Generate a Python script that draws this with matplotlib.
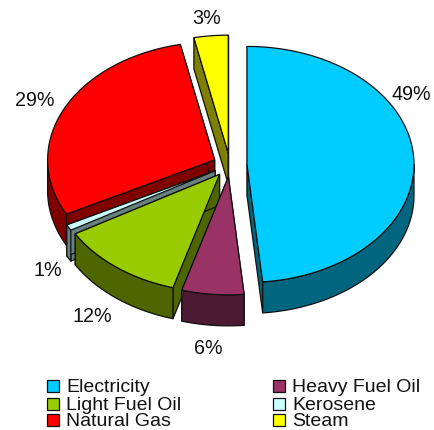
import numpy as np
import matplotlib.pyplot as plt
from matplotlib.patches import Polygon, Rectangle

plt.rcParams['font.family'] = ['Liberation Sans', 'DejaVu Sans']

# order is clockwise from 12 o'clock, shares estimated from the slice angles
fuels = ['Electricity', 'Heavy Fuel Oil', 'Light Fuel Oil', 'Kerosene', 'Natural Gas', 'Steam']
shares = [48.5, 6.0, 12.1, 0.8, 29.3, 3.3]
pct_labels = ['49%', '6%', '12%', '1%', '29%', '3%']
top_colors = ['#00CCFF', '#993366', '#99CC00', '#CCFFFF', '#FF0000', '#FFFF00']
side_colors = ['#006680', '#4D1A33', '#4D6600', '#668080', '#800000', '#808000']

# pixel layout of the fake 3d pie
cx, cy = 230, 165
rx, ry = 167, 118
depth = 31
explode = 17
edge = '#101010'

label_pos = [(411, 95), (208, 348), (92, 316), (48, 270), (35, 101), (207, 18)]
legend_pos = [(47, 392), (273, 392), (47, 410), (273, 410), (47, 426), (273, 426)]

fig = plt.figure(figsize=(4.34, 4.30), dpi=100)
ax = fig.add_axes([0, 0, 1, 1])
ax.set_xlim(0, 434)
ax.set_ylim(430, 0)
ax.axis('off')


def point(deg, radius=1.0):
    t = np.radians(deg)
    return np.sin(t) * rx * radius, -np.cos(t) * ry * radius


ends = np.cumsum(shares) * 3.6
starts = ends - np.array(shares) * 3.6

# back slices first so the front ones cover them
for i in [5, 0, 4, 3, 2, 1]:
    a0, a1 = starts[i], ends[i]
    mid = (a0 + a1) / 2
    dx, dy = point(mid, explode / rx)
    ox, oy = cx + dx, cy + dy * rx / ry * 0.7

    # cut faces
    for a in (a0, a1):
        px, py = point(a)
        face = [(ox, oy), (ox + px, oy + py), (ox + px, oy + py + depth), (ox, oy + depth)]
        ax.add_patch(Polygon(face, fc=side_colors[i], ec=edge, lw=0.9, joinstyle='round'))

    # outer rim, only the front half of the ellipse shows
    r0, r1 = max(a0, 90), min(a1, 270)
    if r1 > r0:
        th = np.linspace(r0, r1, 80)
        px, py = point(th)
        upper = np.column_stack([ox + px, oy + py])
        lower = np.column_stack([ox + px, oy + py + depth])[::-1]
        ax.add_patch(Polygon(np.vstack([upper, lower]), fc=side_colors[i], ec=edge, lw=0.9))

    # top
    th = np.linspace(a0, a1, 120)
    px, py = point(th)
    top = np.vstack([[ox, oy], np.column_stack([ox + px, oy + py])])
    ax.add_patch(Polygon(top, fc=top_colors[i], ec=edge, lw=0.9, joinstyle='round'))

for txt, (x, y) in zip(pct_labels, label_pos):
    ax.text(x, y, txt, ha='center', va='center', fontsize=14.2, color='#111111')

# legend, two columns filled row by row
for name, color, (x, y) in zip(fuels, top_colors, legend_pos):
    ax.add_patch(Rectangle((x, y - 12), 12, 12, fc=color, ec=edge, lw=0.9))
    ax.text(x + 19, y, name, ha='left', va='baseline', fontsize=14.0, color='#111111')

plt.savefig('out.png', dpi=100)
